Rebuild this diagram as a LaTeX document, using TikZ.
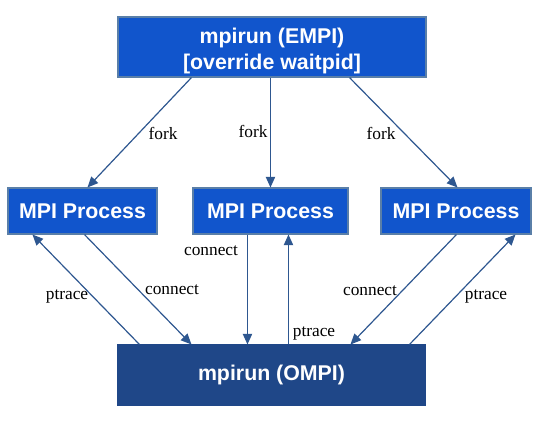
\documentclass[tikz,border=0pt]{standalone}
\usepackage{fontspec}
\setmainfont{Liberation Serif}
\newfontfamily\boxfont{Liberation Sans}
\usetikzlibrary{arrows.meta,calc}
\definecolor{boxblue}{HTML}{1155CC}
\definecolor{darkbox}{HTML}{1F4788}
\definecolor{boxedge}{HTML}{5A7FA8}
\definecolor{arrowcol}{HTML}{2E5790}
\tikzset{
  procbox/.style={draw=boxedge, line width=0.8pt, fill=boxblue, text=white,
    font=\boxfont\bfseries\fontsize{16}{19.5}\selectfont, align=center, inner sep=0pt},
  ombox/.style={procbox, fill=darkbox, draw=darkbox},
  conn/.style={draw=arrowcol, line width=0.9pt, -{Triangle[length=8pt,width=7pt]}},
  lbl/.style={font=\fontsize{13}{15}\selectfont, inner sep=0pt, text=black}
}
\begin{document}
\begin{tikzpicture}[x=0.75pt,y=-0.75pt]
\useasboundingbox (0,0) rectangle (541,433);
% boxes
\node[procbox, minimum width=231pt, minimum height=45pt] (top) at (272,47) {\raisebox{-3.5pt}[\height][\depth]{\begin{tabular}{@{}c@{}}mpirun (EMPI)\\{}[override waitpid]\end{tabular}}};
\node[procbox, minimum width=111.75pt, minimum height=34.5pt] (p1) at (82.5,211) {MPI Process};
\node[procbox, minimum width=116.25pt, minimum height=34.5pt] (p2) at (270.5,211) {MPI Process};
\node[procbox, minimum width=112.5pt, minimum height=34.5pt] (p3) at (456,211) {MPI Process};
\node[ombox, minimum width=230.25pt, minimum height=45pt] (bot) at (271.5,375) {mpirun (OMPI)};
% fork
\draw[conn] ($(top.south west)+(74,0)$) -- ($(p1.north west)+(80,0)$);
\draw[conn] ($(top.south west)+(153,0)$) -- ($(p2.north west)+(78,0)$);
\draw[conn] ($(top.south west)+(232,0)$) -- ($(p3.north west)+(77,0)$);
% left pair
\draw[conn] ($(bot.north west)+(22,0)$) -- ($(p1.south west)+(25,0)$);
\draw[conn] ($(p1.south west)+(77,0)$) -- ($(bot.north west)+(74,0)$);
% middle pair
\draw[conn] ($(p2.south west)+(55,0)$) -- ($(bot.north west)+(130,0)$);
\draw[conn] ($(bot.north west)+(171,0)$) -- ($(p2.south west)+(96,0)$);
% right pair
\draw[conn] ($(p3.south west)+(76,0)$) -- ($(bot.north west)+(233,0)$);
\draw[conn] ($(bot.north west)+(292,0)$) -- ($(p3.south west)+(135,0)$);
% labels
\node[lbl] (l1) at (163,133) {fork};
\node[lbl] (l2) at (253,131) {fork};
\node[lbl] (l3) at (381,133) {fork};
\node[lbl] (l4) at (172,290) {connect};
\node[lbl] (l5) at (67,296) {ptrace};
\node[lbl] (l6) at (211,251) {connect};
\node[lbl] (l7) at (314,333) {ptrace};
\node[lbl] (l8) at (370,291) {connect};
\node[lbl] (l9) at (486,296) {ptrace};
\end{tikzpicture}
\end{document}
